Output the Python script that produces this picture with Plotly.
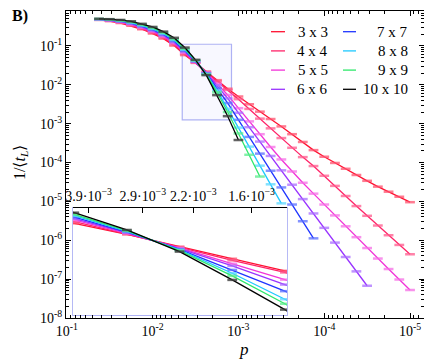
import numpy as np
import plotly.graph_objects as go

# p grid (log10 p), 8 points per decade
P_EXP = [-1.375, -1.5, -1.625, -1.75, -1.875, -2.0, -2.125, -2.25, -2.375, -2.5,
         -2.625, -2.75, -2.875, -3.0, -3.125, -3.25, -3.375, -3.5, -3.625, -3.75,
         -3.875, -4.0, -4.125, -4.25, -4.375, -4.5, -4.625, -4.75, -4.875, -5.0]

# log10(1/<t_L>), one list per lattice size
Y_3 = [-0.33, -0.36, -0.41, -0.48, -0.57, -0.68, -0.81, -0.99, -1.235, -1.435,
       -1.66, -1.88, -2.10, -2.30, -2.50, -2.69, -2.88, -3.07, -3.27, -3.47,
       -3.68, -3.85, -4.01, -4.16, -4.32, -4.47, -4.62, -4.75, -4.88, -5.02]
Y_4 = [-0.326, -0.353, -0.398, -0.463, -0.549, -0.655, -0.783, -0.96, -1.205, -1.43,
       -1.67, -1.91, -2.13, -2.37, -2.62, -2.87, -3.12, -3.37, -3.62, -3.86,
       -4.09, -4.34, -4.60, -4.86, -5.12, -5.37, -5.62, -5.87, -6.12, -6.36]
Y_5 = [-0.321, -0.345, -0.385, -0.444, -0.527, -0.627, -0.754, -0.928, -1.174, -1.417,
       -1.684, -1.97, -2.26, -2.60, -2.94, -3.27, -3.60, -3.92, -4.23, -4.52,
       -4.80, -5.08, -5.36, -5.64, -5.92, -6.20, -6.47, -6.74, -7.01, -7.28]
Y_6 = [-0.317, -0.338, -0.375, -0.429, -0.508, -0.605, -0.731, -0.902, -1.15, -1.405,
       -1.696, -2.01, -2.35, -2.72, -3.09, -3.46, -3.83, -4.20, -4.57, -4.94,
       -5.31, -5.68, -6.06, -6.43, -6.80, -7.17]
Y_7 = [-0.312, -0.33, -0.363, -0.412, -0.487, -0.58, -0.704, -0.872, -1.12, -1.393,
       -1.708, -2.083, -2.47, -2.90, -3.34, -3.77, -4.21, -4.64, -5.08, -5.51, -5.95]
Y_8 = [-0.308, -0.324, -0.352, -0.397, -0.469, -0.558, -0.68, -0.846, -1.096, -1.38,
       -1.72, -2.144, -2.617, -3.10, -3.59, -4.08, -4.56, -5.05]
Y_9 = [-0.305, -0.318, -0.342, -0.382, -0.451, -0.536, -0.657, -0.82, -1.071, -1.369,
       -1.733, -2.192, -2.70, -3.25, -3.80, -4.36]
Y_10 = [-0.30, -0.31, -0.33, -0.365, -0.43, -0.51, -0.63, -0.79, -1.041, -1.356,
        -1.75, -2.265, -2.806, -3.42]

NAMES = ["3 x 3", "4 x 4", "5 x 5", "6 x 6", "7 x 7", "8 x 8", "9 x 9", "10 x 10"]
SERIES = [Y_3, Y_4, Y_5, Y_6, Y_7, Y_8, Y_9, Y_10]
COLORS = ["#ff1030", "#ff2468", "#f233d8", "#9933ff", "#1f35ff", "#1ec8ff", "#2ee86a", "#000000"]
MARK_COLORS = ["rgba(255,80,110,0.75)", "rgba(255,90,140,0.75)", "rgba(245,110,230,0.75)",
               "rgba(170,110,255,0.75)", "rgba(90,110,255,0.75)", "rgba(90,215,255,0.75)",
               "rgba(90,235,140,0.75)", "rgba(60,60,60,0.8)"]

X_TICKS = [1e-1, 1e-2, 1e-3, 1e-4, 1e-5]
Y_TICKS = [1e-8, 1e-7, 1e-6, 1e-5, 1e-4, 1e-3, 1e-2, 1e-1]
INSET_TICKS = [3.9e-3, 2.9e-3, 2.2e-3, 1.6e-3]
INSET_LABELS = ["3.9\u00b710<sup>\u22123</sup>", "2.9\u00b710<sup>\u22123</sup>",
                "2.2\u00b710<sup>\u22123</sup>", "1.6\u00b710<sup>\u22123</sup>"]

FONT = "Liberation Serif"
OFF = 8  # the page body adds an 8px margin, positions below are page pixels
W, H = 424, 356
PL, PR, PT, PB = 66, 424, 11, 318  # plot area on the page


def px(x):
    return (x - PL) / (PR - PL)


def py(y):
    return (PB - y) / (PB - PT)


def minor_vals(lo, hi):
    return [m * 10.0 ** d for d in range(lo, hi) for m in range(2, 10)]


fig = go.Figure()

for name, ylog, col, mcol in zip(NAMES, SERIES, COLORS, MARK_COLORS):
    x = 10 ** np.array(P_EXP[:len(ylog)])
    y = 10 ** np.array(ylog)
    for xa, ya in [("x", "y"), ("x2", "y2")]:
        fig.add_trace(go.Scatter(
            x=x, y=y, name=name, mode="lines+markers",
            xaxis=xa, yaxis=ya, showlegend=False,
            line=dict(color=col, width=1.3),
            marker=dict(symbol="line-ew", size=7, line=dict(width=2.5, color=mcol)),
        ))

axis_common = dict(
    type="log", showgrid=False, zeroline=False, showline=True,
    linecolor="black", linewidth=1, mirror="ticks",
    ticks="inside", ticklen=5, tickcolor="black",
    tickfont=dict(family=FONT, size=14, color="black"),
)

fig.update_layout(
    width=W, height=H,
    margin=dict(l=PL - OFF, r=W - (PR - OFF), t=PT - OFF, b=H - (PB - OFF)),
    paper_bgcolor="white", plot_bgcolor="white",
    font=dict(family=FONT, size=14, color="black"),
    showlegend=False,
    xaxis=dict(
        **axis_common, range=[-0.99, -5.163], domain=[0, 1], anchor="y",
        tickmode="array", tickvals=X_TICKS,
        ticktext=["10<sup>-%d</sup>" % i for i in range(1, 6)],
        minor=dict(ticks="inside", ticklen=3, tickcolor="black",
                   tickmode="array", tickvals=minor_vals(-6, -1)),
    ),
    yaxis=dict(
        **axis_common, range=[-8, -0.1], domain=[0, 1], anchor="x",
        tickmode="array", tickvals=Y_TICKS,
        ticktext=["10<sup>-%d</sup>" % i for i in range(8, 0, -1)],
        minor=dict(ticks="inside", ticklen=3, tickcolor="black",
                   tickmode="array", tickvals=minor_vals(-8, 0)),
    ),
    xaxis2=dict(
        type="log", range=[-2.372, -2.88], domain=[px(73), px(287)],
        anchor="y2", side="top", showgrid=False, zeroline=False,
        showline=True, linecolor="black", linewidth=1.2,
        ticks="inside", ticklen=5, tickcolor="black", tickangle=0,
        tickmode="array", tickvals=INSET_TICKS, ticktext=INSET_LABELS,
        tickfont=dict(family=FONT, size=14, color="black"),
    ),
    yaxis2=dict(
        type="log", range=[-2.904, -0.956], domain=[py(315), py(208)],
        anchor="x2", showgrid=False, zeroline=False, showline=False,
        showticklabels=False, ticks="",
    ),
)

# zoom window in the main plot and the inset background
fig.add_shape(type="rect", xref="x", yref="y",
              x0=10 ** -2.345, x1=10 ** -2.919, y0=10 ** -2.904, y1=10 ** -0.956,
              fillcolor="#f8f8ff", line=dict(color="#aeb2f4", width=1.2), layer="below")
fig.add_shape(type="rect", xref="x2 domain", yref="y2 domain",
              x0=0, x1=1, y0=0, y1=1,
              fillcolor="#f8f8ff", line=dict(color="#aeb2f4", width=1.8), layer="below")

# legend in two columns, drawn by hand
for i, (name, col) in enumerate(zip(NAMES, COLORS)):
    c, r = divmod(i, 4)
    yy = py(31.7 + 19.2 * r)
    x0, x1, xt = [(271, 285, 330), (343, 356, 409.5)][c]
    fig.add_shape(type="line", xref="paper", yref="paper",
                  x0=px(x0), x1=px(x1), y0=yy, y1=yy,
                  line=dict(color=col, width=1.3))
    fig.add_annotation(text=name, xref="paper", yref="paper", x=px(xt), y=yy,
                       xanchor="right", yanchor="middle", showarrow=False,
                       font=dict(family=FONT, size=15, color="black"))

fig.add_annotation(text="<b>B)</b>", xref="paper", yref="paper", x=px(10), y=py(16),
                   xanchor="left", yanchor="middle", showarrow=False,
                   font=dict(family=FONT, size=16, color="black"))
fig.add_annotation(text="1/\u27e8<i>t</i><sub><i>L</i></sub>\u27e9", xref="paper", yref="paper",
                   x=px(20), y=py(163), textangle=-90, xanchor="center", yanchor="middle",
                   showarrow=False, font=dict(family=FONT, size=16, color="black"))
fig.add_annotation(text="<i>p</i>", xref="paper", yref="paper", x=px(244), y=py(349),
                   xanchor="center", yanchor="middle", showarrow=False,
                   font=dict(family=FONT, size=17, color="black"))

fig.write_html("out.html")
